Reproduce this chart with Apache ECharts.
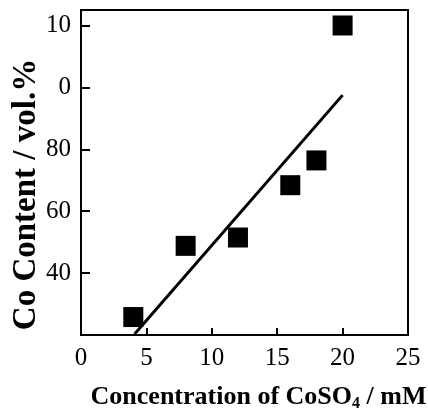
<!DOCTYPE html>
<html>
<head>
<meta charset="utf-8">
<script src="https://cdn.jsdelivr.net/npm/echarts@6/dist/echarts.min.js"></script>
<style>
  html, body { margin: 0; padding: 0; background: #fff; }
  #chart { width: 428px; height: 416px; }
</style>
</head>
<body>
<div id="chart"></div>
<script>
// measured points: CoSO4 concentration (mM) vs Co content (vol.%)
const concentration = [4, 8, 12, 16, 18, 20];
const coContent = [25.8, 48.8, 51.5, 68.4, 76.4, 120];
// fitted line end points
const fitX = [4.1, 20];
const fitY = [20.3, 97.5];
// tick labels as printed in the figure (top two are cut off)
const yTickLabels = { 40: '40', 60: '60', 80: '80', 100: '0', 120: '10' };

const font = 'Liberation Serif, Times New Roman, serif';

// helper axes: nothing shown except split lines, which act as inward ticks
const hidden = {
  axisLine: { show: false, onZero: false },
  axisLabel: { show: false },
  axisTick: { show: false },
  splitLine: { show: false }
};
const tickLines = { splitLine: { show: true, lineStyle: { color: '#000', width: 2 } } };

let chart = echarts.init(document.getElementById('chart'));
let option = {
  animation: false,
  grid: [
    {   // plot frame
      left: 81, right: 20, top: 10, bottom: 81,
      outerBoundsMode: 'none',
      show: true,
      borderColor: '#000',
      borderWidth: 2
    },
    // thin strip inside the left frame for the y ticks
    { left: 81, width: 9, top: 10, bottom: 81, outerBoundsMode: 'none' },
    // thin strip inside the bottom frame for the x ticks
    { left: 81, right: 20, top: 328, bottom: 81, outerBoundsMode: 'none' }
  ],
  xAxis: [
    {
      type: 'value',
      min: 0, max: 25, interval: 5,
      name: '{a|Concentration of CoSO}{s|4}{a| / mM}',
      nameLocation: 'middle',
      nameGap: 47,
      nameMoveOverlap: false,
      nameTextStyle: {
        padding: [0, 0, 0, 28],
        rich: {
          a: { fontFamily: font, fontWeight: 'bold', fontSize: 26, color: '#000' },
          s: { fontFamily: font, fontWeight: 'bold', fontSize: 16, color: '#000', verticalAlign: 'bottom', padding: [14, 0, 0, 0] }
        }
      },
      axisLine: { show: true, onZero: false, lineStyle: { color: '#000', width: 2 } },
      axisTick: { show: false },
      axisLabel: { fontFamily: font, fontSize: 25, color: '#000', margin: 11 },
      splitLine: { show: false }
    },
    Object.assign({ gridIndex: 1, type: 'value', min: 0, max: 1 }, hidden),
    Object.assign({ gridIndex: 2, type: 'value', min: 0, max: 25, interval: 5 }, hidden, tickLines)
  ],
  yAxis: [
    {
      type: 'value',
      min: 20, max: 125, interval: 20,
      name: 'Co Content / vol.%',
      nameLocation: 'middle',
      nameGap: 38,
      nameMoveOverlap: false,
      nameTextStyle: { fontFamily: font, fontWeight: 'bold', fontSize: 33, color: '#000', padding: [0, 44, 0, 0] },
      axisLine: { show: true, onZero: false, lineStyle: { color: '#000', width: 2 } },
      axisTick: { show: false },
      axisLabel: {
        fontFamily: font, fontSize: 25, color: '#000', margin: 10,
        formatter: function (v) { return yTickLabels[v] || ''; }
      },
      splitLine: { show: false }
    },
    Object.assign({ gridIndex: 1, type: 'value', min: 20, max: 125, interval: 20 }, hidden, tickLines),
    Object.assign({ gridIndex: 2, type: 'value', min: 0, max: 1 }, hidden)
  ],
  series: [
    {
      type: 'line',
      data: fitX.map((x, i) => [x, fitY[i]]),
      symbol: 'none',
      lineStyle: { color: '#000', width: 3 },
      z: 2
    },
    {
      type: 'scatter',
      data: concentration.map((x, i) => [x, coContent[i]]),
      symbol: 'rect',
      symbolSize: 20,
      itemStyle: { color: '#000', opacity: 1 },
      z: 3
    }
  ]
};
chart.setOption(option);
</script>
</body>
</html>
